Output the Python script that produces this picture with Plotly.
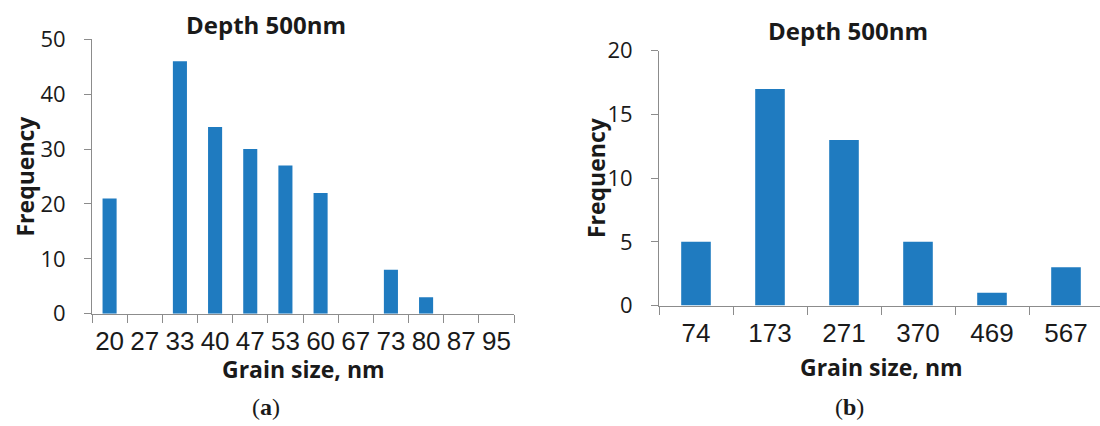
import plotly.graph_objects as go

# Grain-size histograms at 500 nm depth
left_sizes = ["20", "27", "33", "40", "47", "53", "60", "67", "73", "80", "87", "95"]
left_freq = [21, 0, 46, 34, 30, 27, 22, 0, 8, 3, 0, 0]

right_sizes = ["74", "173", "271", "370", "469", "567"]
right_freq = [5, 17, 13, 5, 1, 3]

panel_title = "Depth 500nm"
x_title = "Grain size, nm"
y_title = "Frequency"

W, H = 1100, 426
BAR = "#1F7BC0"
AXIS = "#8C8C8C"
TEXT = "#1a1a1a"


def px_x(v):
    return v / W


def px_y(v):
    return (H - v) / H


fig = go.Figure()

fig.add_trace(go.Bar(
    x=left_sizes, y=left_freq, xaxis="x", yaxis="y",
    marker=dict(color=BAR, line=dict(width=0)),
    showlegend=False, hoverinfo="x+y",
))
fig.add_trace(go.Bar(
    x=right_sizes, y=right_freq, xaxis="x2", yaxis="y2",
    marker=dict(color=BAR, line=dict(width=0)),
    showlegend=False, hoverinfo="x+y",
))

xcommon = dict(
    type="category", showline=True, linecolor=AXIS, linewidth=1,
    ticks="outside", ticklen=8, tickcolor=AXIS, tickwidth=1,
    tickson="boundaries", showgrid=False, zeroline=False,
    tickangle=0, automargin=False, ticklabelstandoff=4,
    tickfont=dict(family="Liberation Sans", size=26, color=TEXT),
)
ycommon = dict(
    showline=True, linecolor=AXIS, linewidth=1,
    ticks="outside", ticklen=7, tickcolor=AXIS, tickwidth=1,
    showgrid=False, zeroline=False, ticklabelstandoff=14,
    automargin=False,
    tickfont=dict(family="Open Sans", size=22, color=TEXT),
)

left_x0, left_x1 = 92, 514
left_y0, left_y50 = 313.7, 39.3
right_x0 = 659
right_cat = 74.0
right_y0, right_y20 = 305.5, 50.7

fig.update_layout(
    template="none",
    width=W, height=H,
    margin=dict(l=0, r=0, t=0, b=0, pad=0),
    paper_bgcolor="white", plot_bgcolor="white",
    bargap=0.6,
    xaxis=dict(xcommon, domain=[px_x(left_x0), px_x(left_x1)],
               range=[-0.5, len(left_sizes) - 0.5], anchor="y"),
    yaxis=dict(ycommon, domain=[px_y(left_y0), px_y(left_y50)],
               range=[0, 50], dtick=10, anchor="x"),
    xaxis2=dict(xcommon, domain=[px_x(right_x0), 1.0],
                range=[-0.5, -0.5 + (W - right_x0) / right_cat], anchor="y2"),
    yaxis2=dict(ycommon, domain=[px_y(right_y0), px_y(right_y20)],
                range=[0, 20], dtick=5, anchor="x2"),
)

bold = dict(family="Open Sans", size=23, color=TEXT)
title_font = dict(family="Open Sans", size=24, color=TEXT)
ann = []
# panel titles
ann.append(dict(text=f"<b>{panel_title}</b>", x=px_x(266), y=px_y(25), font=title_font))
ann.append(dict(text=f"<b>{panel_title}</b>", x=px_x(848), y=px_y(30), font=title_font))
# x axis titles
ann.append(dict(text=f"<b>{x_title}</b>", x=px_x((left_x0 + left_x1) / 2), y=px_y(369)))
ann.append(dict(text=f"<b>{x_title}</b>", x=px_x((right_x0 + right_x0 + 6 * right_cat) / 2), y=px_y(367)))
# y axis titles
ann.append(dict(text=f"<b>{y_title}</b>", x=px_x(24), y=px_y((left_y0 + left_y50) / 2), textangle=-90))
ann.append(dict(text=f"<b>{y_title}</b>", x=px_x(596), y=px_y((right_y0 + right_y20) / 2), textangle=-90))

for a in ann:
    a.setdefault("font", bold)
    a.update(xref="paper", yref="paper", showarrow=False,
             xanchor="center", yanchor="middle")
    fig.add_annotation(**a)

# panel labels
serif = dict(family="Liberation Serif", size=24, color=TEXT)
for lab, xc in (("a", 266), ("b", 849)):
    fig.add_annotation(text=f"(<b>{lab}</b>)", x=px_x(xc), y=px_y(407),
                       xref="paper", yref="paper", showarrow=False,
                       xanchor="center", yanchor="middle", font=serif)

fig.write_html("out.html")
